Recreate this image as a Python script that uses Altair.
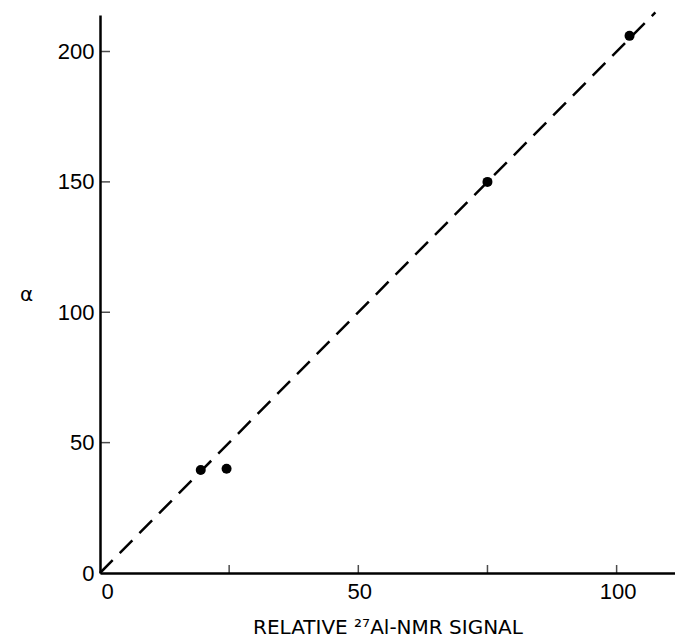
import altair as alt
import pandas as pd

# Data
signal = [19.5, 24.5, 75.0, 102.5]
alpha = [39.5, 40.0, 150.0, 206.0]

fit_x = [0.0, 107.5]
fit_y = [0.0, 215.0]

x_label_values = [0, 50, 100]
x_tick_values = [25, 50, 75, 100]
y_label_values = [0, 50, 100, 150, 200]
y_tick_values = [50, 100, 150, 200]

pts = pd.DataFrame({"signal": signal, "alpha": alpha})
fit = pd.DataFrame({"signal": fit_x, "alpha": fit_y})
xt = pd.DataFrame({"signal": x_tick_values, "alpha": [0] * len(x_tick_values)})
yt = pd.DataFrame({"signal": [0] * len(y_tick_values), "alpha": y_tick_values})

FONT = "Liberation Sans"
TFONT = "DejaVu Sans"

xscale = alt.Scale(domain=[0, 111.3], nice=False, zero=True)
yscale = alt.Scale(domain=[0, 214], nice=False, zero=True)

xaxis = alt.Axis(
    values=x_label_values, ticks=False, grid=False, domainColor="black",
    domainWidth=2.5, labelFont=FONT, labelFontSize=22, labelColor="black",
    labelPadding=8, labelOffset=1, title="RELATIVE ²⁷Al-NMR SIGNAL",
    titleFont=TFONT, titleFontSize=20, titleFontWeight="normal",
    titleColor="black", titlePadding=15,
)
yaxis = alt.Axis(
    values=y_label_values, ticks=False, grid=False, domainColor="black",
    domainWidth=2.5, labelFont=FONT, labelFontSize=22, labelColor="black",
    labelPadding=6, title="α", titleFont=TFONT, titleFontSize=20,
    titleFontWeight="normal", titleColor="black", titleAngle=0,
    titleAlign="center", titleBaseline="middle", titleX=-74,
)

base = alt.Chart(pts).encode(
    x=alt.X("signal:Q", scale=xscale, axis=xaxis),
    y=alt.Y("alpha:Q", scale=yscale, axis=yaxis),
)

points = base.mark_circle(size=100, color="black", opacity=1)

line = alt.Chart(fit).mark_line(
    color="black", strokeWidth=2.5, strokeDash=[18, 10], clip=False
).encode(
    x=alt.X("signal:Q", scale=xscale),
    y=alt.Y("alpha:Q", scale=yscale),
)

xticks = alt.Chart(xt).mark_tick(
    orient="vertical", size=8, thickness=1.5, color="black", yOffset=-4
).encode(
    x=alt.X("signal:Q", scale=xscale),
    y=alt.Y("alpha:Q", scale=yscale),
)

yticks = alt.Chart(yt).mark_tick(
    orient="horizontal", size=10, thickness=1.5, color="black", xOffset=5
).encode(
    x=alt.X("signal:Q", scale=xscale),
    y=alt.Y("alpha:Q", scale=yscale),
)

chart = alt.layer(line, points, xticks, yticks).properties(
    width=575,
    height=558,
    padding={"left": 100, "top": 15, "right": 0, "bottom": 68},
    autosize=alt.AutoSizeParams(type="none"),
    background="white",
).configure_view(stroke=None)

chart.save("out.html", embed_options={"renderer": "svg", "actions": False})
